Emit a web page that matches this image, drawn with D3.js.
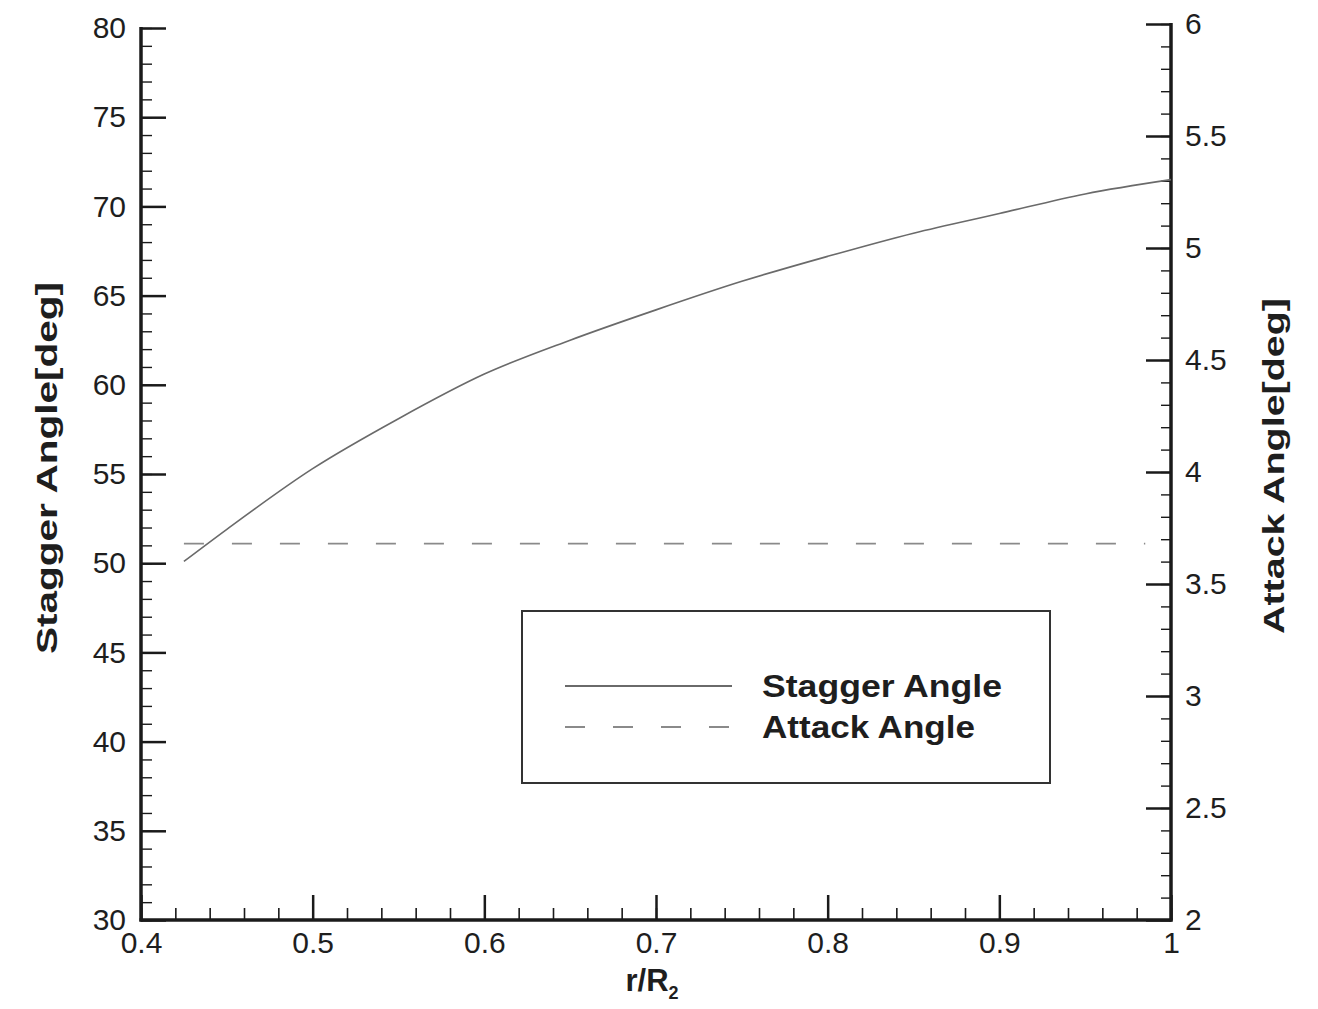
<!DOCTYPE html>
<html>
<head>
<meta charset="utf-8">
<script src="https://cdn.jsdelivr.net/npm/d3@7"></script>
<style>
  html, body { margin: 0; padding: 0; background: #fff; }
  svg { display: block; }
  text { font-family: "Liberation Sans", Arial, Helvetica, sans-serif; fill: #1e1e1e; }
</style>
</head>
<body>
<svg id="chart" width="1318" height="1009"></svg>
<script>
// ---- data ----
const radius = [0.425, 0.45, 0.5, 0.55, 0.6, 0.65, 0.7, 0.75, 0.8, 0.85, 0.9, 0.95, 1.0];
const staggerAngle = [50.1, 51.9, 55.3, 58.1, 60.6, 62.5, 64.2, 65.8, 67.2, 68.5, 69.6, 70.7, 71.5];
const attackRadius = [0.425, 0.5, 0.6, 0.7, 0.8, 0.9, 0.985];
const attackAngle = [3.68, 3.68, 3.68, 3.68, 3.68, 3.68, 3.68];
const xTicks = [0.4, 0.5, 0.6, 0.7, 0.8, 0.9, 1.0];
const xTickLabels = ["0.4", "0.5", "0.6", "0.7", "0.8", "0.9", "1"];
const leftTicks = [30, 35, 40, 45, 50, 55, 60, 65, 70, 75, 80];
const rightTicks = [2, 2.5, 3, 3.5, 4, 4.5, 5, 5.5, 6];
const rightTickLabels = ["2", "2.5", "3", "3.5", "4", "4.5", "5", "5.5", "6"];
const seriesNames = ["Stagger Angle", "Attack Angle"];

// ---- layout ----
const L = 141, R = 1171, T = 28, B = 920;
const svg = d3.select("#chart");

const x = d3.scaleLinear().domain([0.4, 1.0]).range([L, R]);
const yL = d3.scaleLinear().domain([30, 80]).range([B, T]);
const yR = d3.scaleLinear().domain([2, 6]).range([B, T - 4]);

const axisColor = "#1a1a1a";

function styleAxis(g, fontSize) {
  g.select(".domain").remove();
  g.selectAll(".tick line").attr("stroke", axisColor).attr("stroke-width", 2.5);
  g.selectAll(".tick text").attr("font-size", fontSize).style("fill", "#1e1e1e");
}

// minor ticks
const xMinor = d3.range(0.4, 1.0001, 0.02).map(v => +v.toFixed(3));
const yLMinor = d3.range(30, 80.001, 1);
const yRMinor = d3.range(2, 6.001, 0.1).map(v => +v.toFixed(2));

svg.append("g").attr("transform", `translate(0,${B})`)
  .call(d3.axisBottom(x).tickValues(xMinor).tickSize(-12).tickFormat(""))
  .call(g => { g.select(".domain").remove(); g.selectAll(".tick line").attr("stroke", axisColor).attr("stroke-width", 1.6); });
svg.append("g").attr("transform", `translate(${L},0)`)
  .call(d3.axisLeft(yL).tickValues(yLMinor).tickSize(-11).tickFormat(""))
  .call(g => { g.select(".domain").remove(); g.selectAll(".tick line").attr("stroke", axisColor).attr("stroke-width", 1.4); });
svg.append("g").attr("transform", `translate(${R},0)`)
  .call(d3.axisRight(yR).tickValues(yRMinor).tickSize(-10).tickFormat(""))
  .call(g => { g.select(".domain").remove(); g.selectAll(".tick line").attr("stroke", axisColor).attr("stroke-width", 1.4); });

// major ticks + labels
svg.append("g").attr("transform", `translate(0,${B})`)
  .call(d3.axisBottom(x).tickValues(xTicks).tickSize(-25).tickPadding(12)
    .tickFormat((d, i) => xTickLabels[i]))
  .call(g => styleAxis(g, 30));
svg.append("g").attr("transform", `translate(${L},0)`)
  .call(d3.axisLeft(yL).tickValues(leftTicks).tickSize(-25).tickPadding(15).tickFormat(d3.format("d")))
  .call(g => styleAxis(g, 30));
svg.append("g").attr("transform", `translate(${R},0)`)
  .call(d3.axisRight(yR).tickValues(rightTicks).tickSize(-25).tickPadding(14)
    .tickFormat((d, i) => rightTickLabels[i]))
  .call(g => styleAxis(g, 30));

// axis lines
svg.append("line").attr("x1", L).attr("x2", L).attr("y1", T - 1).attr("y2", B + 1.5)
  .attr("stroke", axisColor).attr("stroke-width", 3.5);
svg.append("line").attr("x1", R).attr("x2", R).attr("y1", T - 5).attr("y2", B + 1.5)
  .attr("stroke", axisColor).attr("stroke-width", 3.5);
svg.append("line").attr("x1", L - 1.5).attr("x2", R + 1.5).attr("y1", B).attr("y2", B)
  .attr("stroke", axisColor).attr("stroke-width", 3.5);

// series
const staggerLine = d3.line().x((d, i) => x(radius[i])).y(d => yL(d)).curve(d3.curveMonotoneX);
svg.append("path").datum(staggerAngle)
  .attr("d", staggerLine)
  .attr("fill", "none").attr("stroke", "#6a6a6a").attr("stroke-width", 1.6);

const attackLine = d3.line().x((d, i) => x(attackRadius[i])).y(d => yR(d));
svg.append("path").datum(attackAngle)
  .attr("d", attackLine)
  .attr("fill", "none").attr("stroke", "#8a8a8a").attr("stroke-width", 1.8)
  .attr("stroke-dasharray", "20,28");

// axis titles
svg.append("text")
  .attr("transform", `translate(57,468) rotate(-90)`)
  .attr("text-anchor", "middle")
  .attr("font-size", 30).attr("font-weight", "bold")
  .attr("textLength", 372).attr("lengthAdjust", "spacingAndGlyphs")
  .text("Stagger Angle[deg]");
svg.append("text")
  .attr("transform", `translate(1284,466) rotate(-90)`)
  .attr("text-anchor", "middle")
  .attr("font-size", 30).attr("font-weight", "bold")
  .attr("textLength", 336).attr("lengthAdjust", "spacingAndGlyphs")
  .text("Attack Angle[deg]");
const xt = svg.append("text")
  .attr("x", 652).attr("y", 991)
  .attr("text-anchor", "middle")
  .attr("font-size", 31).attr("font-weight", "bold");
xt.append("tspan").text("r/R");
xt.append("tspan").attr("font-size", 18).attr("dy", 8).text("2");

// legend
const lg = svg.append("g");
lg.append("rect").attr("x", 522).attr("y", 611).attr("width", 528).attr("height", 172)
  .attr("fill", "none").attr("stroke", "#333").attr("stroke-width", 2);
const legendStyles = [
  { stroke: "#6a6a6a", dash: null, width: 1.8, len: 240 },
  { stroke: "#8a8a8a", dash: "20,28", width: 1.8, len: 213 }
];
seriesNames.forEach((name, i) => {
  const yy = 686 + i * 41;
  lg.append("line").attr("x1", 565).attr("x2", 732).attr("y1", yy).attr("y2", yy)
    .attr("stroke", legendStyles[i].stroke).attr("stroke-width", legendStyles[i].width)
    .attr("stroke-dasharray", legendStyles[i].dash);
  lg.append("text").attr("x", 762).attr("y", yy + 11)
    .attr("font-size", 31).attr("font-weight", "bold")
    .attr("textLength", legendStyles[i].len).attr("lengthAdjust", "spacingAndGlyphs")
    .text(name);
});
</script>
</body>
</html>
